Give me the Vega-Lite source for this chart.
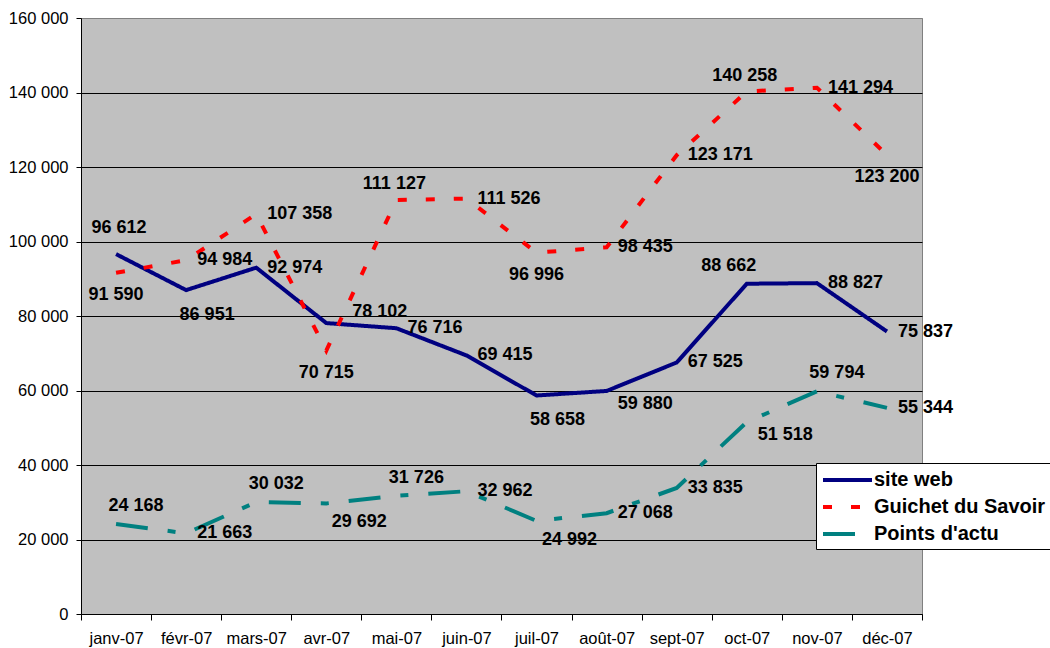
{
  "$schema": "https://vega.github.io/schema/vega-lite/v6.json",
  "width": 841,
  "height": 596,
  "autosize": "none",
  "padding": {"left": 81, "top": 18, "right": 128, "bottom": 34},
  "background": "white",
  "data": {
    "values": [
      {"month": "janv-07", "series": "site web", "value": 96612},
      {"month": "févr-07", "series": "site web", "value": 86951},
      {"month": "mars-07", "series": "site web", "value": 92974},
      {"month": "avr-07", "series": "site web", "value": 78102},
      {"month": "mai-07", "series": "site web", "value": 76716},
      {"month": "juin-07", "series": "site web", "value": 69415},
      {"month": "juil-07", "series": "site web", "value": 58658},
      {"month": "août-07", "series": "site web", "value": 59880},
      {"month": "sept-07", "series": "site web", "value": 67525},
      {"month": "oct-07", "series": "site web", "value": 88662},
      {"month": "nov-07", "series": "site web", "value": 88827},
      {"month": "déc-07", "series": "site web", "value": 75837},
      {"month": "janv-07", "series": "Guichet du Savoir", "value": 91590},
      {"month": "févr-07", "series": "Guichet du Savoir", "value": 94984},
      {"month": "mars-07", "series": "Guichet du Savoir", "value": 107358},
      {"month": "avr-07", "series": "Guichet du Savoir", "value": 70715},
      {"month": "mai-07", "series": "Guichet du Savoir", "value": 111127},
      {"month": "juin-07", "series": "Guichet du Savoir", "value": 111526},
      {"month": "juil-07", "series": "Guichet du Savoir", "value": 96996},
      {"month": "août-07", "series": "Guichet du Savoir", "value": 98435},
      {"month": "sept-07", "series": "Guichet du Savoir", "value": 123171},
      {"month": "oct-07", "series": "Guichet du Savoir", "value": 140258},
      {"month": "nov-07", "series": "Guichet du Savoir", "value": 141294},
      {"month": "déc-07", "series": "Guichet du Savoir", "value": 123200},
      {"month": "janv-07", "series": "Points d'actu", "value": 24168},
      {"month": "févr-07", "series": "Points d'actu", "value": 21663},
      {"month": "mars-07", "series": "Points d'actu", "value": 30032},
      {"month": "avr-07", "series": "Points d'actu", "value": 29692},
      {"month": "mai-07", "series": "Points d'actu", "value": 31726},
      {"month": "juin-07", "series": "Points d'actu", "value": 32962},
      {"month": "juil-07", "series": "Points d'actu", "value": 24992},
      {"month": "août-07", "series": "Points d'actu", "value": 27068},
      {"month": "sept-07", "series": "Points d'actu", "value": 33835},
      {"month": "oct-07", "series": "Points d'actu", "value": 51518},
      {"month": "nov-07", "series": "Points d'actu", "value": 59794},
      {"month": "déc-07", "series": "Points d'actu", "value": 55344}
    ]
  },
  "encoding": {
    "x": {
      "field": "month",
      "type": "nominal",
      "sort": ["janv-07", "févr-07", "mars-07", "avr-07", "mai-07", "juin-07", "juil-07", "août-07", "sept-07", "oct-07", "nov-07", "déc-07"],
      "bandPosition": 0.5,
      "scale": {"type": "band", "paddingInner": 0, "paddingOuter": 0},
      "title": null,
      "axis": {
        "tickBand": "extent",
        "grid": false,
        "labelAngle": 0,
        "tickSize": 6,
        "labelPadding": 10,
        "domainColor": "black",
        "tickColor": "black"
      }
    },
    "y": {
      "field": "value",
      "type": "quantitative",
      "scale": {"domain": [0, 160000], "nice": false},
      "title": null,
      "axis": {
        "values": [0, 20000, 40000, 60000, 80000, 100000, 120000, 140000, 160000],
        "format": ",d",
        "tickSize": 5,
        "labelPadding": 8,
        "domainColor": "black",
        "tickColor": "black",
        "grid": true,
        "gridColor": {"condition": {"test": "datum.value === 160000", "value": "#808080"}, "value": "black"},
        "gridOpacity": 1
      }
    }
  },
  "layer": [
    {
      "mark": {"type": "line", "strokeWidth": 4, "strokeCap": "butt"},
      "encoding": {
        "color": {
          "field": "series",
          "type": "nominal",
          "scale": {"domain": ["site web", "Guichet du Savoir", "Points d'actu"], "range": ["#000080", "#FF0000", "#008080"]},
          "legend": {
            "orient": "none",
            "legendX": 735,
            "legendY": 445,
            "title": null,
            "symbolType": "M-1,0L3.9,0",
            "symbolSize": 400,
            "symbolStrokeWidth": 4,
            "labelFontSize": 20,
            "labelFont": "Liberation Sans",
            "labelFontWeight": "bold",
            "labelColor": "black",
            "labelOffset": 29,
            "labelLimit": 0,
            "padding": 5,
            "rowPadding": 5,
            "fillColor": "white",
            "strokeColor": "black"
          }
        },
        "strokeDash": {
          "field": "series",
          "type": "nominal",
          "scale": {"domain": ["site web", "Guichet du Savoir", "Points d'actu"], "range": [[1, 0], [9, 19], [32, 20, 8, 20]]}
        }
      }
    },
    {
      "transform": [{"filter": "indexof([\"site web|mars-07\",\"site web|mai-07\",\"site web|juin-07\",\"site web|sept-07\",\"site web|nov-07\",\"site web|déc-07\",\"Guichet du Savoir|févr-07\",\"Guichet du Savoir|mars-07\",\"Guichet du Savoir|juin-07\",\"Guichet du Savoir|août-07\",\"Guichet du Savoir|sept-07\",\"Guichet du Savoir|nov-07\",\"Points d'actu|févr-07\",\"Points d'actu|juin-07\",\"Points d'actu|août-07\",\"Points d'actu|sept-07\",\"Points d'actu|déc-07\"], datum.series + '|' + datum.month) >= 0"}],
      "mark": {"type": "text", "align": "left", "dx": 11, "dy": 0},
      "encoding": {"text": {"field": "value", "type": "quantitative", "format": ",d"}}
    },
    {
      "transform": [{"filter": "indexof([\"site web|août-07\",\"Points d'actu|oct-07\"], datum.series + '|' + datum.month) >= 0"}],
      "mark": {"type": "text", "align": "left", "dx": 11, "dy": 13},
      "encoding": {"text": {"field": "value", "type": "quantitative", "format": ",d"}}
    },
    {
      "transform": [{"filter": "indexof([\"Guichet du Savoir|mai-07\",\"Guichet du Savoir|oct-07\"], datum.series + '|' + datum.month) >= 0"}],
      "mark": {"type": "text", "align": "center", "dx": -2, "dy": -16},
      "encoding": {"text": {"field": "value", "type": "quantitative", "format": ",d"}}
    },
    {
      "transform": [{"filter": "indexof([\"Points d'actu|janv-07\",\"Points d'actu|mars-07\",\"Points d'actu|mai-07\",\"Points d'actu|nov-07\"], datum.series + '|' + datum.month) >= 0"}],
      "mark": {"type": "text", "align": "center", "dx": 20, "dy": -18},
      "encoding": {"text": {"field": "value", "type": "quantitative", "format": ",d"}}
    },
    {
      "transform": [{"filter": "indexof([\"Guichet du Savoir|janv-07\",\"Guichet du Savoir|avr-07\",\"Guichet du Savoir|juil-07\",\"Guichet du Savoir|déc-07\"], datum.series + '|' + datum.month) >= 0"}],
      "mark": {"type": "text", "align": "center", "dx": 0, "dy": 22},
      "encoding": {"text": {"field": "value", "type": "quantitative", "format": ",d"}}
    },
    {
      "transform": [{"filter": "indexof([\"site web|févr-07\",\"site web|juil-07\"], datum.series + '|' + datum.month) >= 0"}],
      "mark": {"type": "text", "align": "center", "dx": 21, "dy": 25},
      "encoding": {"text": {"field": "value", "type": "quantitative", "format": ",d"}}
    },
    {
      "transform": [{"filter": "indexof([\"Points d'actu|avr-07\",\"Points d'actu|juil-07\"], datum.series + '|' + datum.month) >= 0"}],
      "mark": {"type": "text", "align": "center", "dx": 33, "dy": 19},
      "encoding": {"text": {"field": "value", "type": "quantitative", "format": ",d"}}
    },
    {
      "transform": [{"filter": "datum.series === 'site web' && datum.month === 'janv-07'"}],
      "mark": {"type": "text", "align": "center", "dx": 3, "dy": -26},
      "encoding": {"text": {"field": "value", "type": "quantitative", "format": ",d"}}
    },
    {
      "transform": [{"filter": "datum.series === 'site web' && datum.month === 'avr-07'"}],
      "mark": {"type": "text", "align": "left", "dx": 26, "dy": -11},
      "encoding": {"text": {"field": "value", "type": "quantitative", "format": ",d"}}
    },
    {
      "transform": [{"filter": "datum.series === 'site web' && datum.month === 'oct-07'"}],
      "mark": {"type": "text", "align": "center", "dx": -18, "dy": -18},
      "encoding": {"text": {"field": "value", "type": "quantitative", "format": ",d"}}
    }
  ],
  "config": {
    "locale": {"number": {"decimal": ",", "thousands": " ", "grouping": [3], "currency": ["", " €"]}},
    "view": {"fill": "#C0C0C0", "stroke": "#808080", "strokeWidth": 1},
    "axis": {"labelFont": "Liberation Sans", "labelFontSize": 16.5, "labelColor": "black"},
    "text": {"font": "Liberation Sans", "fontSize": 18, "fontWeight": "bold", "color": "black", "baseline": "middle"}
  }
}
